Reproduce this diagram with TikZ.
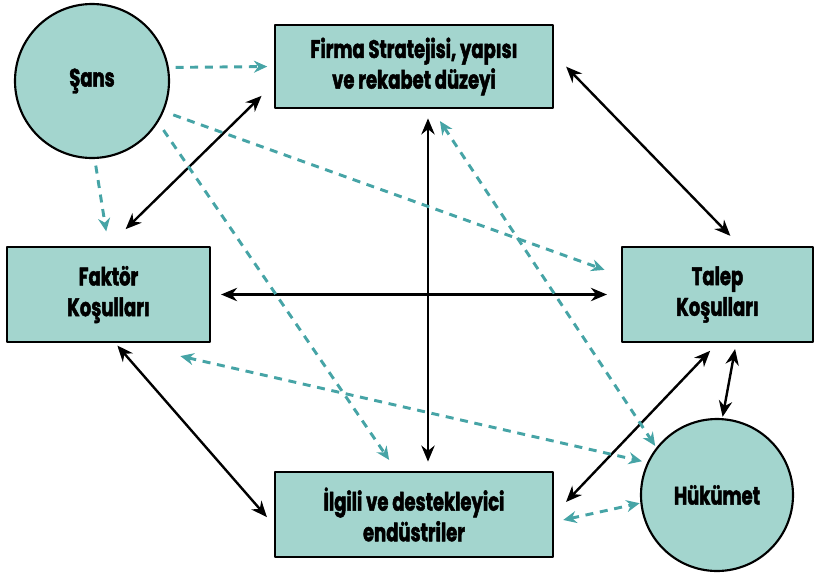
\documentclass[tikz,border=0pt]{standalone}
\usepackage{fontspec}
\usepackage{xcolor}
\usepackage{tikz}
\usetikzlibrary{arrows.meta}
\newfontfamily\lblfont{Poppins}[FakeStretch=0.71,BoldFeatures={FakeBold=1.8}]
\definecolor{boxfill}{RGB}{163,213,206}
\definecolor{tealdash}{RGB}{70,164,166}

\begin{document}
\begin{tikzpicture}[
  x=0.75pt,y=-0.75pt,
  line cap=round,
  line join=round,
  boxnode/.style={draw=black,fill=boxfill,line width=1.6pt,align=center,
    inner sep=2pt,font=\lblfont\bfseries\fontsize{19}{23}\selectfont},
  roundnode/.style={boxnode,circle,inner sep=0pt},
  mainarrow/.style={black,line width=1.8pt,
    {Stealth[length=12pt,width=10pt]}-{Stealth[length=12pt,width=10pt]}},
  chancearrow/.style={tealdash,line width=2.2pt,line cap=butt,
    dash pattern=on 6pt off 5pt,-{Stealth[length=10pt,width=9pt]}},
  chancedouble/.style={chancearrow,
    {Stealth[length=10pt,width=9pt]}-{Stealth[length=10pt,width=9pt]}}
]
\path[use as bounding box] (0,0) rectangle (815,579);

% the four corners of the diamond and the two outside forces
\node[roundnode,minimum size=115.5pt] (sans) at (92,81) {Şans};
\node[roundnode,minimum size=114pt] (hukumet) at (717,495) {Hükümet};
\node[boxnode,minimum width=208.5pt,minimum height=62.25pt] (firma)
  at (414,66.5) {Firma Stratejisi, yapısı\\ve rekabet düzeyi};
\node[boxnode,minimum width=152.25pt,minimum height=71.25pt] (faktor)
  at (108.5,294.5) {Faktör\\Koşulları};
\node[boxnode,minimum width=143.25pt,minimum height=71.25pt] (talep)
  at (717.5,294.5) {Talep\\Koşulları};
\node[boxnode,minimum width=208.5pt,minimum height=63.75pt] (ilgili)
  at (414,514.5) {İlgili ve destekleyici\\endüstriler};

% black two-way links
\draw[mainarrow,shorten <=13pt,shorten >=18pt] (firma.187) -- (faktor.north);
\draw[mainarrow,shorten <=13pt,shorten >=10.5pt] (firma.5) -- (talep.65);
\draw[mainarrow,shorten <=7.5pt,shorten >=10.5pt] (faktor.east) -- (talep.west);
\draw[mainarrow,shorten <=7pt,shorten >=7pt]
  ([xshift=10.5pt]firma.south) -- ([xshift=10.5pt]ilgili.north);
\draw[mainarrow,shorten <=2.5pt,shorten >=8pt]
  ([xshift=5pt]faktor.south) -- ([yshift=-8pt]ilgili.west);
\draw[mainarrow,shorten <=8pt,shorten >=13pt] (talep.south) -- (ilgili.east);
\draw[mainarrow,shorten <=4.5pt,shorten >=1pt]
  ([xshift=14pt]talep.south) -- (hukumet.86);

% dashed influence of chance and government
\draw[chancearrow,shorten <=5pt,shorten >=5pt] (sans.10) -- (firma.west);
\draw[chancearrow,shorten <=5pt,shorten >=11pt] (sans.-88) -- (faktor.north);
\draw[chancearrow,shorten <=7.5pt,shorten >=13pt] (sans.-23) -- (talep.169);
\draw[chancearrow,shorten <=7pt,shorten >=10pt]
  (sans.-32) -- ([xshift=-13pt]ilgili.north);
\draw[chancedouble,shorten <=10.8pt,shorten >=1.5pt]
  ([xshift=13.5pt]firma.south) -- (hukumet.142);
\draw[chancedouble,shorten <=44pt,shorten >=4pt]
  ([xshift=11pt]faktor.south) -- (hukumet.155);
\draw[chancedouble,shorten <=7pt,shorten >=0.5pt]
  ([yshift=-5.6pt]ilgili.east) -- (hukumet.186);
\end{tikzpicture}
\end{document}
